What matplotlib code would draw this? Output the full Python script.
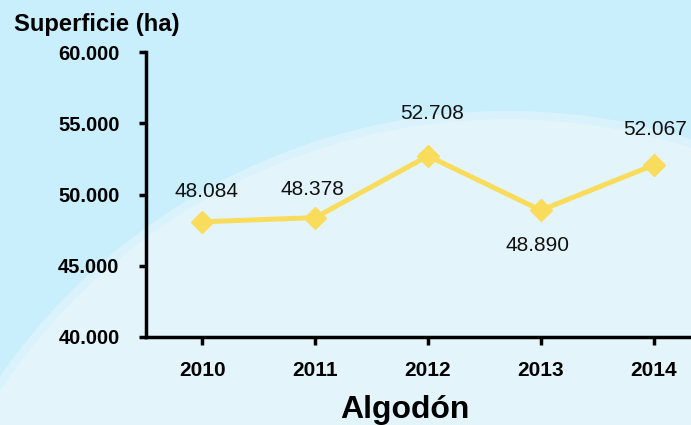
import matplotlib.pyplot as plt
from matplotlib.patches import Circle, Rectangle

# Data
years = ['2010', '2011', '2012', '2013', '2014']
superficie = [48084, 48378, 52708, 48890, 52067]
labels = ['48.084', '48.378', '52.708', '48.890', '52.067']
yticks = [40000, 45000, 50000, 55000, 60000]
yticklabels = ['40.000', '45.000', '50.000', '55.000', '60.000']
# label offsets (pixels) relative to each point
label_dx = [4, -3, 4, -3, 1]
label_dy = [30, 28, 42, -35, 36]

plt.rcParams['font.family'] = ['Liberation Sans', 'DejaVu Sans']

fig = plt.figure(figsize=(6.91, 4.25), dpi=100)

# background: light blue with big pale arc
bg = fig.add_axes([0, 0, 1, 1], zorder=0)
bg.set_xlim(0, 691)
bg.set_ylim(425, 0)
bg.axis('off')
bg.add_patch(Rectangle((0, 0), 691, 425, color='#c9eefc'))
bg.add_patch(Circle((507, 728), 613, facecolor='#e3f5fb', edgecolor='#d9f2fb', linewidth=6))

ax = fig.add_axes([146 / 691, 1 - 337 / 425, 564 / 691, 285 / 425], zorder=1)
ax.patch.set_alpha(0)
x = range(len(years))
ax.plot(x, superficie, color='#f9dc5c', linewidth=3.6, marker='D', markersize=11, zorder=3)

for i, v in enumerate(superficie):
    ax.annotate(labels[i], (i, v), xytext=(label_dx[i] * 0.72, label_dy[i] * 0.72),
                textcoords='offset points', ha='center', va='center', fontsize=15, color='#111111')

ax.set_xlim(-0.5, 4.5)
ax.set_ylim(40000, 60000)
ax.set_xticks(list(x))
ax.set_xticklabels(years, fontsize=15, fontweight='bold')
ax.set_yticks(yticks)
ax.set_yticklabels(yticklabels, fontsize=14.5, fontweight='bold')
ax.tick_params(axis='y', length=5, width=2.5, pad=14)
ax.tick_params(axis='x', length=6, width=2.5, pad=11)
for s in ['top', 'right']:
    ax.spines[s].set_visible(False)
for s in ['left', 'bottom']:
    ax.spines[s].set_linewidth(2.5)

fig.text(14 / 691, 1 - 25 / 425, 'Superficie (ha)', fontsize=17.2, fontweight='bold', va='center', ha='left')
fig.text(405 / 691, 1 - 410 / 425, 'Algodón', fontsize=23, fontweight='bold', va='center', ha='center')

fig.savefig('out.png', dpi=100)
